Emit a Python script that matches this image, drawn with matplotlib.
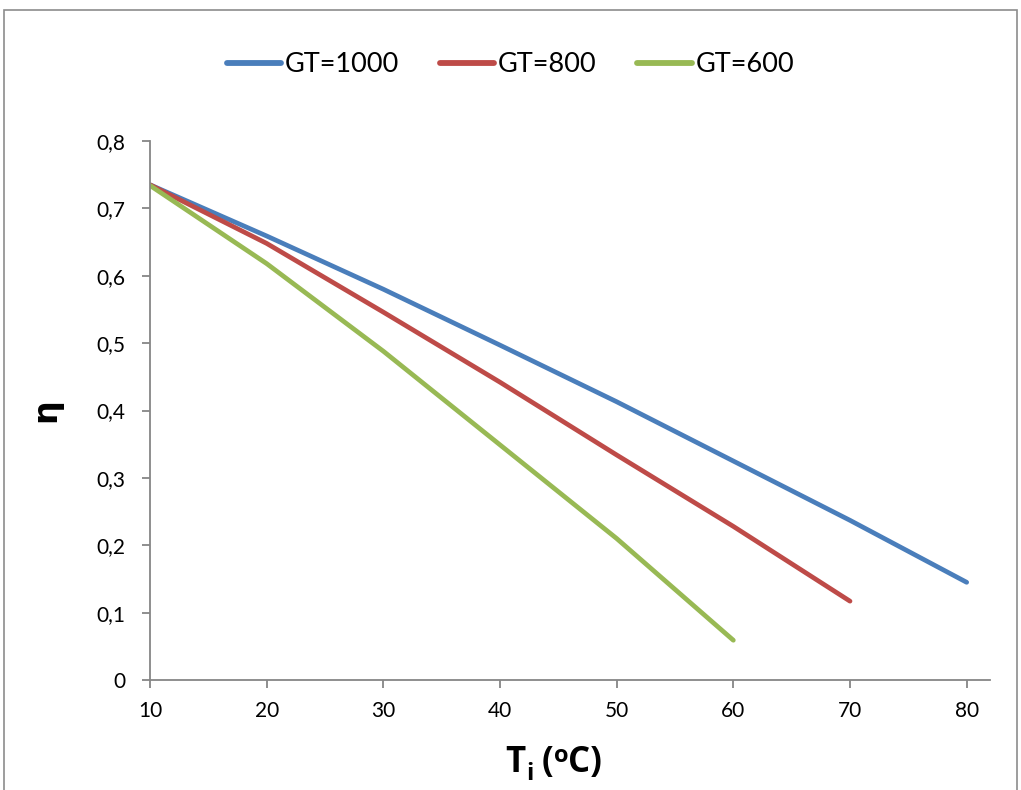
import matplotlib
matplotlib.use("Agg")
import matplotlib.pyplot as plt
from matplotlib.patches import Rectangle

# Inlet temperature (°C) and collector efficiency for three irradiance levels
t_in_1000 = [10, 20, 30, 40, 50, 60, 70, 80]
eta_1000 = [0.735, 0.659, 0.580, 0.497, 0.413, 0.325, 0.237, 0.145]

t_in_800 = [10, 20, 30, 40, 50, 60, 70]
eta_800 = [0.735, 0.648, 0.546, 0.442, 0.334, 0.228, 0.117]

t_in_600 = [10, 20, 30, 40, 50, 60]
eta_600 = [0.734, 0.618, 0.488, 0.349, 0.210, 0.059]

series_labels = ["GT=1000", "GT=800", "GT=600"]
x_ticks = [10, 20, 30, 40, 50, 60, 70, 80]
y_ticks = [0, 0.1, 0.2, 0.3, 0.4, 0.5, 0.6, 0.7, 0.8]
y_tick_labels = ["0", "0,1", "0,2", "0,3", "0,4", "0,5", "0,6", "0,7", "0,8"]

plt.rcParams["font.family"] = ["Lato", "DejaVu Sans"]

W, H = 1021, 790
fig = plt.figure(figsize=(W / 100, H / 100), dpi=100)

# outer chart border
fig.patches.append(Rectangle((4 / W, -0.01), (1017 - 4) / W, 1 - 10 / H + 0.01,
                             transform=fig.transFigure, fill=False,
                             edgecolor="#8c8c8c", linewidth=1.2))

ax = fig.add_axes([150 / W, 110 / H, (990 - 150) / W, (680 - 141) / H])

colors = ["#4A7EBB", "#BE4B48", "#98B954"]
lw = 3.4
for xs, ys, c, lab in zip([t_in_1000, t_in_800, t_in_600],
                          [eta_1000, eta_800, eta_600], colors, series_labels):
    ax.plot(xs, ys, color=c, linewidth=lw, label=lab,
            solid_capstyle="round", solid_joinstyle="round")

ax.set_xlim(10, 82)
ax.set_ylim(0, 0.8)
ax.set_xticks(x_ticks)
ax.set_xticklabels([str(v) for v in x_ticks])
ax.set_yticks(y_ticks)
ax.set_yticklabels(y_tick_labels)

for side in ("top", "right"):
    ax.spines[side].set_visible(False)
for side in ("left", "bottom"):
    ax.spines[side].set_color("#868686")
    ax.spines[side].set_linewidth(1.3)
ax.tick_params(axis="both", direction="out", length=6, width=1.3,
               color="#868686", labelsize=15, labelcolor="black")
ax.tick_params(axis="x", pad=9)
ax.tick_params(axis="y", pad=12)

ax.set_ylabel("η", fontsize=24, fontweight="bold", labelpad=24,
              family=["DejaVu Sans"])

# x-axis title "T_i (°C)" assembled from bold pieces: base text, subscript, superscript
renderer = fig.canvas.get_renderer()
pieces = [("T", 25, 0), ("i", 17, -8), (" (", 25, 0), ("o", 17, 10), ("C)", 25, 0)]
base_y = 18  # baseline, pixels from the bottom of the figure
texts = []
for s, size, dy in pieces:
    t = fig.text(0, (base_y + dy) / H, s, fontsize=size, fontweight="bold",
                 family=["Open Sans", "DejaVu Sans"],
                 ha="left", va="baseline", color="black")
    texts.append(t)
widths = [t.get_window_extent(renderer).width for t in texts]
total = sum(widths)
x = 554 - total / 2
for t, w in zip(texts, widths):
    t.set_x(x / W)
    x += w

fig.legend(loc="center", bbox_to_anchor=(0.5, 1 - 65 / H), ncol=3,
           frameon=False, fontsize=19.5, handlelength=2.0, handletextpad=0.15,
           columnspacing=1.5)
for line in fig.legends[0].get_lines():
    line.set_linewidth(4.2)

fig.savefig("out.png", dpi=100)
